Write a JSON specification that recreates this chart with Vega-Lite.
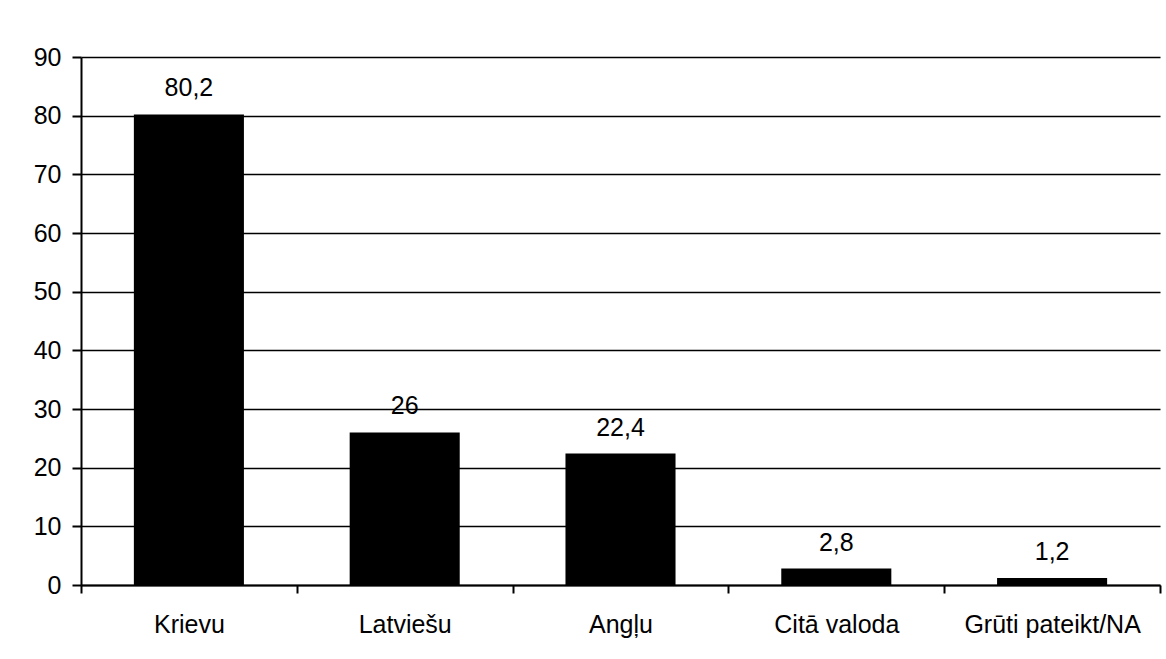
{
  "$schema": "https://vega.github.io/schema/vega-lite/v6.json",
  "width": 1079,
  "height": 528,
  "autosize": "none",
  "padding": {"left": 81, "top": 57, "right": 6, "bottom": 74},
  "background": "white",
  "config": {
    "locale": {"number": {"decimal": ",", "thousands": " ", "grouping": [3], "currency": ["", ""]}},
    "view": {"stroke": null},
    "font": "Liberation Sans"
  },
  "data": {
    "values": [
      {"valoda": "Krievu", "v": 80.2},
      {"valoda": "Latviešu", "v": 26},
      {"valoda": "Angļu", "v": 22.4},
      {"valoda": "Citā valoda", "v": 2.8},
      {"valoda": "Grūti pateikt/NA", "v": 1.2}
    ]
  },
  "encoding": {
    "x": {
      "field": "valoda",
      "type": "nominal",
      "sort": null,
      "scale": {"paddingInner": 0, "paddingOuter": 0},
      "axis": {
        "title": null,
        "labelAngle": 0,
        "labelFontSize": 25,
        "labelColor": "black",
        "labelPadding": 19,
        "tickBand": "extent",
        "tickSize": 8,
        "tickWidth": 2,
        "tickColor": "black",
        "domainColor": "black",
        "domainWidth": 2,
        "grid": false
      }
    },
    "y": {
      "field": "v",
      "type": "quantitative",
      "scale": {"domain": [0, 90], "nice": false},
      "axis": {
        "title": null,
        "values": [0, 10, 20, 30, 40, 50, 60, 70, 80, 90],
        "grid": true,
        "gridColor": "black",
        "gridWidth": 1.6,
        "gridOpacity": 1,
        "domainColor": "black",
        "domainWidth": 2,
        "tickColor": "black",
        "tickSize": 9,
        "tickWidth": 2,
        "labelFontSize": 25,
        "labelColor": "black",
        "labelPadding": 11
      }
    }
  },
  "layer": [
    {"mark": {"type": "bar", "color": "black", "width": {"band": 0.51}}},
    {
      "mark": {"type": "text", "dy": -18, "baseline": "alphabetic", "fontSize": 25, "color": "black"},
      "encoding": {"text": {"field": "v", "type": "quantitative", "format": "~g"}}
    }
  ]
}
